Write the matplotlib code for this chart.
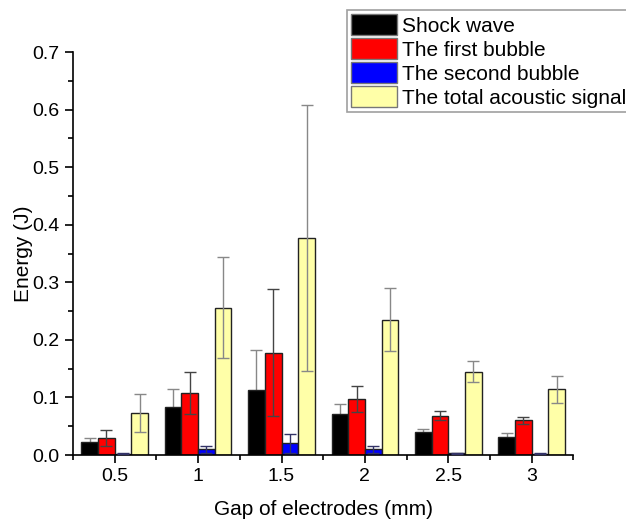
import matplotlib
matplotlib.use('Agg')
import matplotlib.pyplot as plt
import numpy as np
from matplotlib.ticker import MultipleLocator, FixedLocator

plt.rcParams['font.family'] = ['Liberation Sans', 'DejaVu Sans']

# gap of electrodes (mm)
gap = [0.5, 1.0, 1.5, 2.0, 2.5, 3.0]
gap_labels = ['0.5', '1', '1.5', '2', '2.5', '3']

shock = [0.023, 0.084, 0.113, 0.071, 0.040, 0.032]
shock_err = [0.006, 0.030, 0.069, 0.017, 0.006, 0.007]

bubble1 = [0.029, 0.108, 0.178, 0.097, 0.068, 0.060]
bubble1_err = [0.014, 0.036, 0.110, 0.022, 0.008, 0.006]

bubble2 = [0.002, 0.010, 0.020, 0.010, 0.003, 0.002]
bubble2_err = [0.001, 0.006, 0.016, 0.006, 0.001, 0.001]

total = [0.073, 0.256, 0.377, 0.235, 0.145, 0.114]
total_err = [0.033, 0.088, 0.231, 0.055, 0.019, 0.023]

labels = ['Shock wave', 'The first bubble', 'The second bubble', 'The total acoustic signal']

my_dpi = 100
fig = plt.figure(figsize=(626/my_dpi, 519/my_dpi), dpi=my_dpi)
ax = fig.add_axes([0.1166, 0.1233, 0.916-0.1166, 0.8998-0.1233])

x = np.array(gap)
w = 0.1
series = [
    (shock, shock_err, 'black', '#888888', 1),
    (bubble1, bubble1_err, '#ff0000', '#444444', 3),
    (bubble2, bubble2_err, '#0000ff', '#333366', 3),
    (total, total_err, '#ffffa8', '#888888', 3),
]
offsets = [-1.5, -0.5, 0.5, 1.5]
for (vals, errs, col, ecol, ez), off, lab in zip(series, offsets, labels):
    ax.bar(x + off*w, vals, w, color=col, edgecolor='#222222', linewidth=1.0,
           label=lab, zorder=2)
    ax.errorbar(x + off*w, vals, yerr=errs, fmt='none', ecolor=ecol,
                elinewidth=1.0, capsize=4, capthick=1.0, zorder=ez)

ax.set_xlim(0.25, 3.25)
ax.set_ylim(0, 0.7)
ax.set_xticks(gap)
ax.set_xticklabels(gap_labels)
ax.xaxis.set_minor_locator(FixedLocator([0.25, 0.75, 1.25, 1.75, 2.25, 2.75, 3.25]))
ax.set_yticks(np.arange(0, 0.71, 0.1))
ax.set_yticklabels(['0.0', '0.1', '0.2', '0.3', '0.4', '0.5', '0.6', '0.7'])
ax.yaxis.set_minor_locator(MultipleLocator(0.05))
ax.tick_params(which='major', direction='out', length=6, width=1.2, labelsize=14, colors='black')
ax.tick_params(which='minor', direction='out', length=3.5, width=1.2)
for s in ['top', 'right']:
    ax.spines[s].set_visible(False)
for s in ['left', 'bottom']:
    ax.spines[s].set_linewidth(1.2)

ax.set_xlabel('Gap of electrodes (mm)', fontsize=15, labelpad=11)
ax.set_ylabel('Energy (J)', fontsize=15, labelpad=0)

leg = fig.legend(loc='upper left', bbox_to_anchor=(347/626, 1-10/519), fontsize=15,
                 frameon=True, fancybox=False, shadow=False, handlelength=2.2,
                 handleheight=1.15, handletextpad=0.25, labelspacing=0.13,
                 borderpad=0.2, borderaxespad=0)
leg.get_frame().set_edgecolor('#888888')
leg.get_frame().set_linewidth(1.2)
for p in leg.get_patches():
    p.set_edgecolor('#777777')

fig.savefig('out.png', dpi=my_dpi)
